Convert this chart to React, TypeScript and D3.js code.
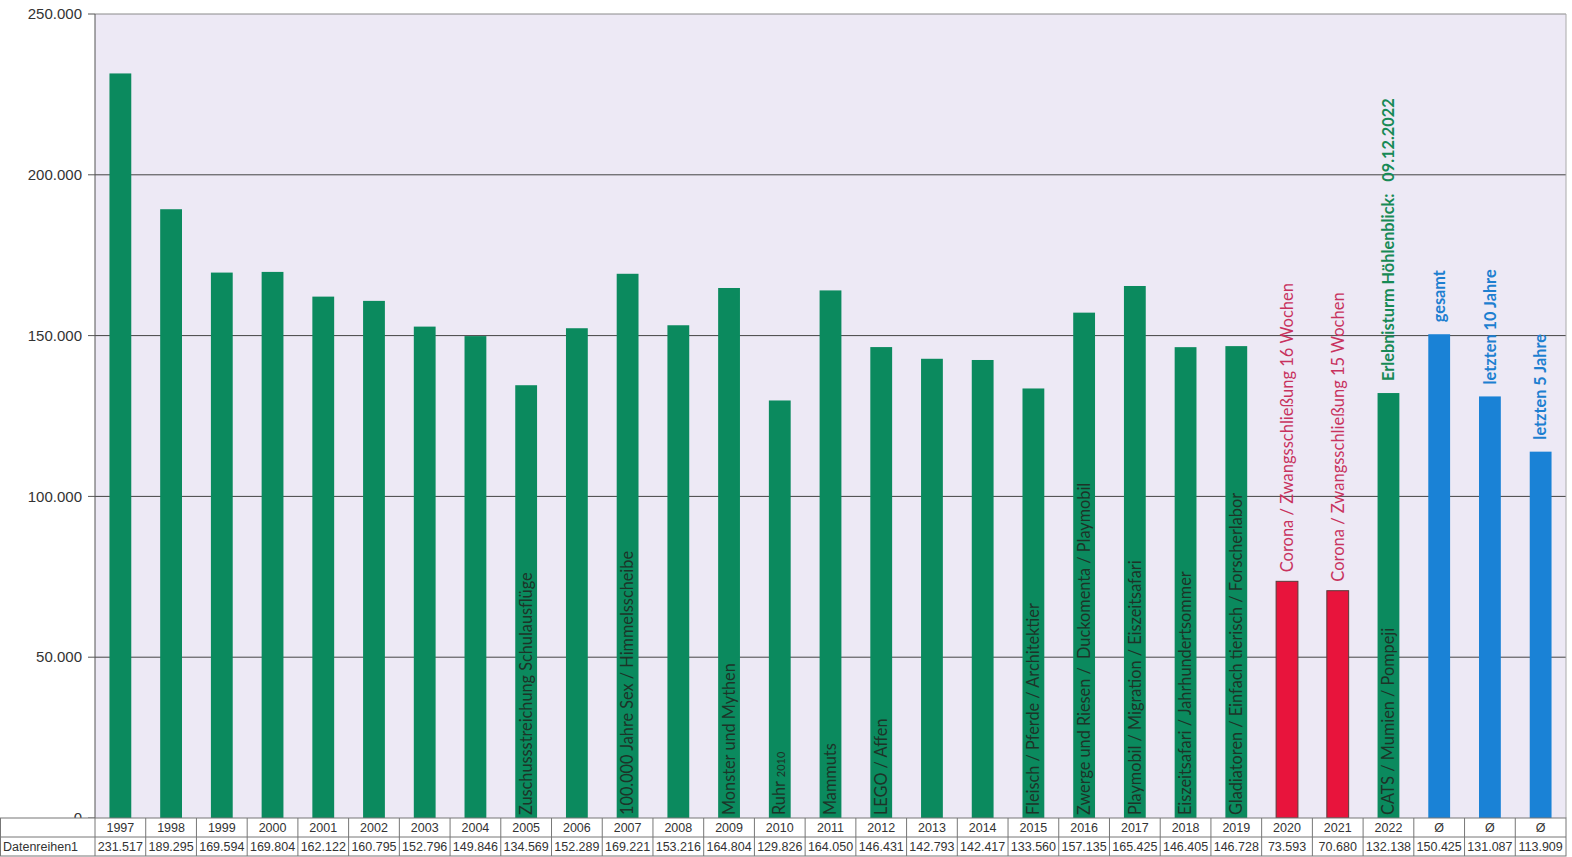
import React from "react";
import * as d3 from "d3";

const categories = ["1997","1998","1999","2000","2001","2002","2003","2004","2005","2006","2007","2008","2009","2010","2011","2012","2013","2014","2015","2016","2017","2018","2019","2020","2021","2022","Ø","Ø ","Ø  "];
const values = [231517,189295,169594,169804,162122,160795,152796,149846,134569,152289,169221,153216,164804,129826,164050,146431,142793,142417,133560,157135,165425,146405,146728,73593,70680,132138,150425,131087,113909];
const valueLabels = ["231.517","189.295","169.594","169.804","162.122","160.795","152.796","149.846","134.569","152.289","169.221","153.216","164.804","129.826","164.050","146.431","142.793","142.417","133.560","157.135","165.425","146.405","146.728","73.593","70.680","132.138","150.425","131.087","113.909"];
const yearLabels = ["1997","1998","1999","2000","2001","2002","2003","2004","2005","2006","2007","2008","2009","2010","2011","2012","2013","2014","2015","2016","2017","2018","2019","2020","2021","2022","Ø","Ø","Ø"];
const groups = ["g","g","g","g","g","g","g","g","g","g","g","g","g","g","g","g","g","g","g","g","g","g","g","r","r","g","b","b","b"];
const seriesName = "Datenreihen1";
const yTicks = [0, 50000, 100000, 150000, 200000, 250000];
const yTickLabels = ["0","50.000","100.000","150.000","200.000","250.000"];

// labels inside bars (from bottom)
const insideLabels: { cat: string; text: string; small?: string }[] = [
  { cat: "2005", text: "Zuschussstreichung Schulausflüge" },
  { cat: "2007", text: "100.000 Jahre Sex / Himmelsscheibe" },
  { cat: "2009", text: "Monster und Mythen" },
  { cat: "2010", text: "Ruhr ", small: "2010" },
  { cat: "2011", text: "Mammuts" },
  { cat: "2012", text: "LEGO / Affen" },
  { cat: "2015", text: "Fleisch / Pferde / Architektier" },
  { cat: "2016", text: "Zwerge und Riesen /  Duckomenta / Playmobil" },
  { cat: "2017", text: "Playmobil / Migration / Eiszeitsafari" },
  { cat: "2018", text: "Eiszeitsafari / Jahrhundertsommer" },
  { cat: "2019", text: "Gladiatoren / Einfach tierisch / Forscherlabor" },
  { cat: "2022", text: "CATS / Mumien / Pompeji" },
];
// labels above bars
const aboveLabels: { cat: string; text: string; kind: string }[] = [
  { cat: "2020", text: "Corona / Zwangsschließung 16 Wochen", kind: "r" },
  { cat: "2021", text: "Corona / Zwangsschließung 15 Wochen", kind: "r" },
  { cat: "2022", text: "Erlebnisturm Höhlenblick:   09.12.2022", kind: "t" },
  { cat: "Ø", text: "gesamt", kind: "b" },
  { cat: "Ø ", text: "letzten 10 Jahre", kind: "b" },
  { cat: "Ø  ", text: "letzten 5 Jahre", kind: "b" },
];

const W = 1572, H = 857;
const left = 95, right = 1566, top = 14, bottom = 818;
const fill: Record<string, string> = { g: "#0b8a5e", r: "#e8143c", b: "#1a82d6" };
const textFill: Record<string, string> = { r: "#c8325e", t: "#178a55", b: "#1d7fd0" };
const labelFont = "Lato, 'Noto Sans', sans-serif";
const tableFont = "Arial, 'Liberation Sans', sans-serif";

export default function App() {
  const x = d3.scaleBand<string>().domain(categories).range([left, right]).paddingInner(0.57).paddingOuter(0.285);
  const y = d3.scaleLinear().domain([0, 250000]).range([bottom, top]);
  const band = (right - left) / categories.length;
  const row1 = bottom, row2 = 837, row3 = 856;
  return (
    <svg width={W} height={H} style={{ position: "absolute", left: 0, top: 0, background: "#fff" }}>
      <rect x={left} y={top} width={right - left} height={bottom - top} fill="#ede9f5" />
      {yTicks.map((t, i) => (
        <g key={t}>
          {t > 0 && <line x1={left} x2={right} y1={y(t)} y2={y(t)} stroke={t === 250000 ? "#8a8a8a" : "#444"} strokeWidth={1} />}
          <line x1={left - 7} x2={left} y1={y(t)} y2={y(t)} stroke="#555" />
          <text x={82} y={y(t)} dy="0.35em" textAnchor="end" fontFamily={tableFont} fontSize={15} fill="#333">{yTickLabels[i]}</text>
        </g>
      ))}
      <line x1={right} x2={right} y1={top} y2={bottom} stroke="#aaa" />
      {categories.map((c, i) => (
        <rect key={c} x={x(c)!} y={y(values[i])} width={x.bandwidth()} height={bottom - y(values[i])}
          fill={fill[groups[i]]} stroke={groups[i] === "r" ? "#5a3a3a" : "none"} strokeWidth={groups[i] === "r" ? 1 : 0} />
      ))}
      <line x1={left} x2={left} y1={top} y2={bottom} stroke="#555" />
      {insideLabels.map((l) => {
        const cx = x(l.cat)! + x.bandwidth() / 2;
        return (
          <text key={"in" + l.cat} transform={`translate(${cx},${bottom - 3}) rotate(-90)`} dy="0.35em"
            fontFamily={labelFont} fontSize={16.3} fill="#1d3328" style={{ whiteSpace: "pre" }}>
            {l.text}
            {l.small && <tspan fontSize={11}>{l.small}</tspan>}
          </text>
        );
      })}
      {aboveLabels.map((l) => {
        const i = categories.indexOf(l.cat);
        const cx = x(l.cat)! + x.bandwidth() / 2;
        const gap = l.kind === "r" ? 9 : 12;
        return (
          <text key={"ab" + l.cat} transform={`translate(${cx},${y(values[i]) - gap}) rotate(-90)`} dy="0.35em"
            fontFamily={labelFont} fontSize={l.kind === "r" ? 16.5 : 16.3} fontWeight={l.kind === "r" ? 400 : 700} fill={textFill[l.kind]}
            style={{ whiteSpace: "pre" }}>
            {l.text}
          </text>
        );
      })}
      {/* data table */}
      <rect x={0.5} y={row1} width={right - 0.5} height={row3 - row1} fill="#fff" stroke="#777" />
      <line x1={left} x2={right} y1={row2} y2={row2} stroke="#777" />
      <line x1={0.5} x2={left} y1={row2} y2={row2} stroke="#777" />
      {categories.map((c, i) => (
        <line key={"v" + i} x1={left + band * i} x2={left + band * i} y1={row1} y2={row3} stroke="#777" />
      ))}
      <text x={3} y={(row2 + row3) / 2} dy="0.35em" fontFamily={tableFont} fontSize={12.5} fill="#333">{seriesName}</text>
      {categories.map((c, i) => (
        <g key={"t" + i} fontFamily={tableFont} fontSize={12.5} fill="#333" textAnchor="middle">
          <text x={left + band * (i + 0.5)} y={(row1 + row2) / 2} dy="0.35em">{yearLabels[i]}</text>
          <text x={left + band * (i + 0.5)} y={(row2 + row3) / 2} dy="0.35em">{valueLabels[i]}</text>
        </g>
      ))}
    </svg>
  );
}
